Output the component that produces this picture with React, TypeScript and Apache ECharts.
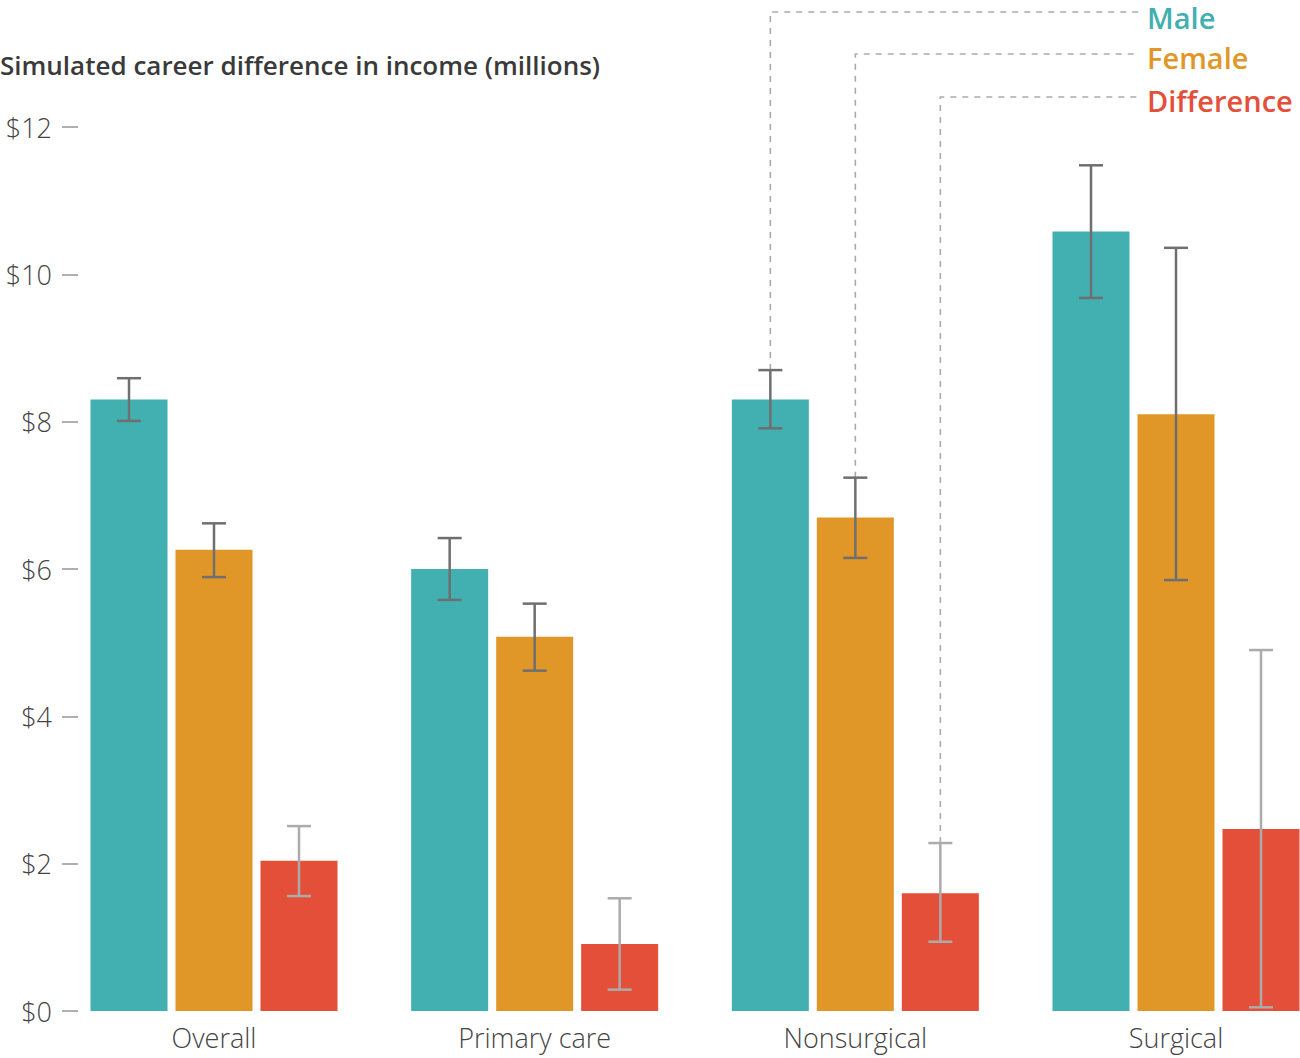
import React, { useEffect, useRef } from "react";
import * as echarts from "echarts";

const categories = ["Overall", "Primary care", "Nonsurgical", "Surgical"];
const seriesNames = ["Male", "Female", "Difference"];
const maleValues = [8.3, 6.0, 8.3, 10.58];
const femaleValues = [6.26, 5.08, 6.7, 8.1];
const differenceValues = [2.04, 0.91, 1.6, 2.47];
const maleLow = [8.01, 5.58, 7.91, 9.68];
const maleHigh = [8.59, 6.42, 8.7, 11.48];
const femaleLow = [5.89, 4.62, 6.15, 5.85];
const femaleHigh = [6.62, 5.53, 7.24, 10.36];
const differenceLow = [1.56, 0.29, 0.94, 0.05];
const differenceHigh = [2.51, 1.53, 2.28, 4.9];
const yTickLabels = ["$0", "$2", "$4", "$6", "$8", "$10", "$12"];
const legendCategoryIndex = 2; // Nonsurgical
const titleText = "Simulated career difference in income (millions)";

const COLORS = ["#42AFB1", "#E09728", "#E44F3A"];
const ERR_COLORS = ["#6f6f6f", "#6f6f6f", "#ababab"];
const FONT = "'Open Sans', 'Noto Sans', sans-serif";
const BAR_W = 77;
const BAR_STEP = 85;
const LEGEND_Y = [12, 54, 97];
const LEGEND_TEXT_Y = [17, 57, 100];
const LEGEND_X = 1147;

export default function App() {
  const ref = useRef<HTMLDivElement>(null);
  useEffect(() => {
    if (!ref.current) return;
    const chart = echarts.init(ref.current, undefined, { renderer: "svg" });
    const values = [maleValues, femaleValues, differenceValues];
    const lows = [maleLow, femaleLow, differenceLow];
    const highs = [maleHigh, femaleHigh, differenceHigh];

    const barSeries = seriesNames.map((name, s) => ({
      type: "bar",
      name,
      data: values[s],
      barWidth: BAR_W,
      barGap: (8 / BAR_W) * 100 + "%",
      itemStyle: { color: COLORS[s] },
      silent: true,
    }));

    const errSeries = seriesNames.map((name, s) => ({
      type: "custom",
      name: name + " range",
      data: categories.map((_, i) => [i, lows[s][i], highs[s][i]]),
      encode: { x: 0, y: [1, 2] },
      z: 5,
      silent: true,
      renderItem: (params: any, api: any) => {
        const cat = api.value(0);
        const lo = api.coord([cat, api.value(1)]);
        const hi = api.coord([cat, api.value(2)]);
        const x = lo[0] + (s - 1) * BAR_STEP;
        const style = { stroke: ERR_COLORS[s], lineWidth: 2.5 };
        return {
          type: "group",
          children: [
            { type: "line", shape: { x1: x, y1: hi[1], x2: x, y2: lo[1] }, style },
            { type: "line", shape: { x1: x - 12, y1: hi[1], x2: x + 12, y2: hi[1] }, style },
            { type: "line", shape: { x1: x - 12, y1: lo[1], x2: x + 12, y2: lo[1] }, style },
          ],
        };
      },
    }));

    const leaderSeries = {
      type: "custom",
      name: "leaders",
      data: seriesNames.map((_, s) => [legendCategoryIndex, highs[s][legendCategoryIndex], s]),
      encode: { x: 0, y: 1 },
      z: 1,
      silent: true,
      clip: false,
      renderItem: (params: any, api: any) => {
        const cat = api.value(0);
        const s = api.value(2);
        const p = api.coord([cat, api.value(1)]);
        const x = p[0] + (s - 1) * BAR_STEP;
        const ly = LEGEND_Y[s];
        return {
          type: "polyline",
          shape: { points: [[x, p[1]], [x, ly], [LEGEND_X - 8, ly]] },
          style: { stroke: "#aaaaaa", lineWidth: 1.6, lineDash: [6, 6], fill: "none" },
        };
      },
    };

    chart.setOption({
      animation: false,
      grid: { left: 53.67, top: 127, width: 1282.67, height: 884, containLabel: false },
      xAxis: {
        type: "category",
        data: categories,
        axisLine: { show: false },
        axisTick: { show: false },
        axisLabel: { color: "#444", fontSize: 27, fontFamily: FONT, fontWeight: 300, margin: 13 },
      },
      yAxis: {
        type: "value",
        min: 0,
        max: 12,
        interval: 2,
        offset: -8.33,
        axisLine: { show: false },
        axisTick: { show: true, inside: true, length: 16, lineStyle: { color: "#b0b0b0", width: 2 } },
        splitLine: { show: false },
        axisLabel: {
          color: "#444",
          fontSize: 27,
          fontFamily: FONT,
          fontWeight: 300,
          margin: 10,
          formatter: (v: number) => yTickLabels[Math.round(v / 2)],
        },
      },
      graphic: [
        {
          type: "text",
          left: 0,
          top: 52,
          style: { text: titleText, fontSize: 26, fontFamily: FONT, fontWeight: 600, fill: "#3a3a3a" },
        },
        ...seriesNames.map((name, s) => ({
          type: "text",
          x: LEGEND_X,
          y: LEGEND_TEXT_Y[s],
          style: {
            text: name,
            fontSize: 29,
            fontFamily: FONT,
            fontWeight: 600,
            fill: COLORS[s],
            verticalAlign: "middle",
          },
        })),
      ],
      series: [...barSeries, ...errSeries, leaderSeries],
    });
    return () => chart.dispose();
  }, []);
  return (
    <div style={{ position: "absolute", left: 0, top: 0, width: 1300, height: 1058, overflow: "hidden", background: "#fff" }}>
      <div ref={ref} style={{ width: 1340, height: 1058 }} />
    </div>
  );
}
